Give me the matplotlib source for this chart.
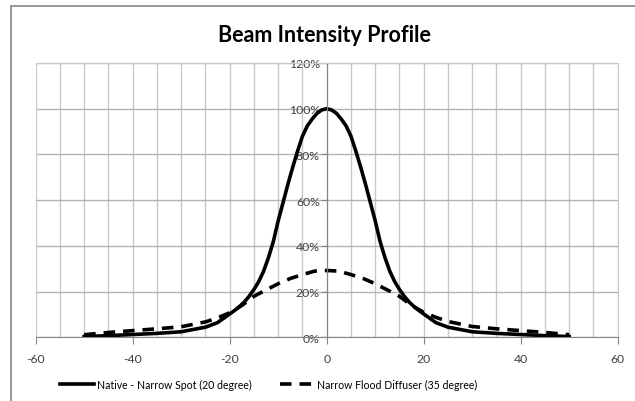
import matplotlib
matplotlib.use("Agg")
import matplotlib.pyplot as plt
from matplotlib.patches import Rectangle
from matplotlib.ticker import MultipleLocator, PercentFormatter

# Native - Narrow Spot (20 degree)
spot_angle = [-50, -45, -40, -35, -30, -25, -22.5, -20, -19, -18, -17, -16, -15, -14, -13,
              -12, -11, -10, -9, -8, -7, -6, -5, -4, -3, -2, -1, 0,
              1, 2, 3, 4, 5, 6, 7, 8, 9, 10, 11, 12, 13, 14, 15, 16, 17, 18, 19, 20,
              22.5, 25, 30, 35, 40, 45, 50]
spot_intensity = [0.4, 0.8, 1.3, 1.8, 2.5, 4.5, 6.5, 10.3, 11.8, 13.5, 15.5, 18, 21, 24.5, 29,
                  35, 42, 51, 59, 67, 74.5, 81.5, 88, 92.5, 95.5, 98, 99.5, 100,
                  99.5, 98, 95.5, 92.5, 88, 81.5, 74.5, 67, 59, 51, 42, 35, 29, 24.5, 21, 18, 15.5, 13.5, 11.8, 10.3,
                  6.5, 4.5, 2.5, 1.8, 1.3, 0.8, 0.4]

# Narrow Flood Diffuser (35 degree)
flood_angle = [-50, -45, -40, -35, -30, -25, -22.5, -20, -17.5, -15, -12.5, -10, -7.5, -5, -2.5, 0,
               2.5, 5, 7.5, 10, 12.5, 15, 17.5, 20, 22.5, 25, 30, 35, 40, 45, 50]
flood_intensity = [1.2, 2.2, 3.0, 3.8, 4.7, 6.8, 8.6, 10.8, 14, 18, 20.8, 23.5, 25.8, 27.5, 29, 29.3,
                   29, 27.5, 25.8, 23.5, 20.8, 18, 14, 11, 8.8, 7, 4.8, 3.8, 3.0, 2.2, 1.2]

plt.rcParams["font.family"] = ["Lato", "DejaVu Sans"]
plt.rcParams["axes.unicode_minus"] = False

fig = plt.figure(figsize=(6.35, 4.02), dpi=100)
ax = fig.add_axes([0.0562, 0.158, 0.9166, 0.6828])

# outer chart border (partly cut off on the right/bottom)
fig.patches.append(Rectangle((11 / 635, -0.1), 1.2, 1 - 7 / 402 + 0.1, transform=fig.transFigure,
                             fill=False, edgecolor="#868686", linewidth=1.2))

ax.plot(spot_angle, spot_intensity, color="black", linewidth=2.6,
        label="Native - Narrow Spot (20 degree)", solid_joinstyle="round")
ax.plot(flood_angle, flood_intensity, color="black", linewidth=2.6, dashes=(3.2, 2.2),
        label="Narrow Flood Diffuser (35 degree)")

ax.set_xlim(-60, 60)
ax.set_ylim(0, 120)
ax.xaxis.set_major_locator(MultipleLocator(20))
ax.xaxis.set_minor_locator(MultipleLocator(5))
ax.yaxis.set_major_locator(MultipleLocator(20))
ax.yaxis.set_major_formatter(PercentFormatter(decimals=0))

ax.grid(True, which="major", axis="y", color="#b4b4b4", linewidth=1)
ax.grid(True, which="both", axis="x", color="#c8c8c8", linewidth=1)
ax.set_axisbelow(True)

ax.spines["left"].set_position(("data", 0))
ax.spines["left"].set_color("#868686")
ax.spines["bottom"].set_color("#868686")
ax.spines["top"].set_color("#c8c8c8")
ax.spines["right"].set_color("#c8c8c8")

ax.tick_params(axis="x", which="major", length=5, color="#868686", labelsize=8.8, labelcolor="#404040", pad=6)
ax.tick_params(axis="x", which="minor", length=0)
ax.tick_params(axis="y", length=4, color="#868686", labelsize=8.8, labelcolor="#404040", pad=1)

fig.text(0.511, 0.912, "Beam Intensity Profile", ha="center", va="center",
         fontsize=15.5, fontweight="bold")

fig.legend(loc="center", bbox_to_anchor=(0.423, 0.042), ncol=2, frameon=False,
           fontsize=7.6, handlelength=3.2, columnspacing=2.6, handletextpad=0.3)

plt.savefig("out.png", dpi=100)
plt.close()
